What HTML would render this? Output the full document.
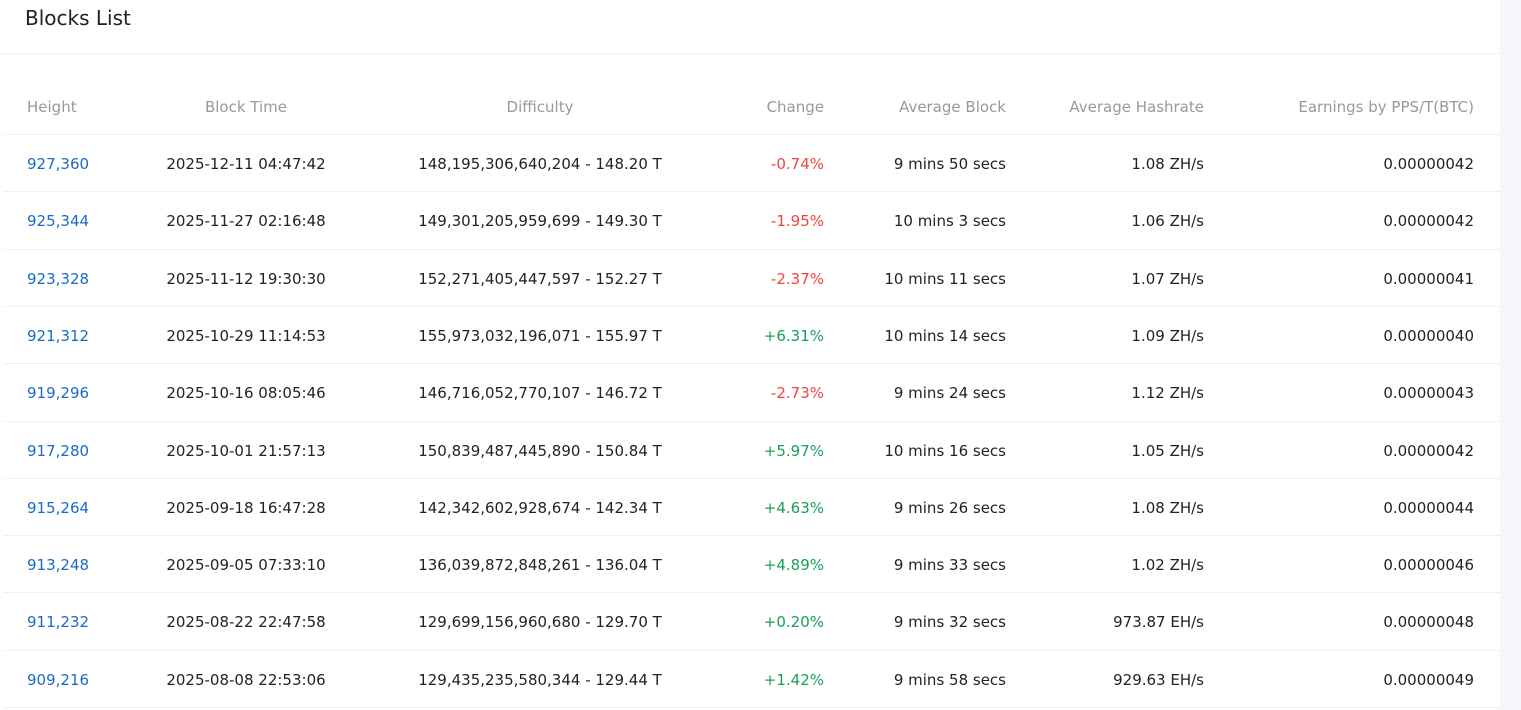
<!DOCTYPE html>
<html><head><meta charset="utf-8"><style>
body{margin:0;width:1521px;height:710px;background:#f5f7fa;font-family:"DejaVu Sans","Liberation Sans",sans-serif;overflow:hidden;position:relative}
.panel{position:absolute;left:0;top:0;width:1500px;height:710px;background:#fff}
.title{position:absolute;left:25px;top:6px;font-size:20px;color:#222}
.hr{position:absolute;left:0;width:1500px;height:1px;background:#eef0f3}
.c{position:absolute;font-size:15px;color:#222;white-space:nowrap;line-height:20px}
.h{color:#999}
.l{color:#1a6ac4}.r{color:#f0443c}.g{color:#18a05a}
</style></head><body><div class="panel">
<div class="title">Blocks List</div>
<div class="hr" style="top:53px"></div>
<div id="t"></div>
</div>
<script>
var rows=[["927,360","2025-12-11 04:47:42","148,195,306,640,204 - 148.20 T","-0.74%","9 mins 50 secs","1.08 ZH/s","0.00000042"],
["925,344","2025-11-27 02:16:48","149,301,205,959,699 - 149.30 T","-1.95%","10 mins 3 secs","1.06 ZH/s","0.00000042"],
["923,328","2025-11-12 19:30:30","152,271,405,447,597 - 152.27 T","-2.37%","10 mins 11 secs","1.07 ZH/s","0.00000041"],
["921,312","2025-10-29 11:14:53","155,973,032,196,071 - 155.97 T","+6.31%","10 mins 14 secs","1.09 ZH/s","0.00000040"],
["919,296","2025-10-16 08:05:46","146,716,052,770,107 - 146.72 T","-2.73%","9 mins 24 secs","1.12 ZH/s","0.00000043"],
["917,280","2025-10-01 21:57:13","150,839,487,445,890 - 150.84 T","+5.97%","10 mins 16 secs","1.05 ZH/s","0.00000042"],
["915,264","2025-09-18 16:47:28","142,342,602,928,674 - 142.34 T","+4.63%","9 mins 26 secs","1.08 ZH/s","0.00000044"],
["913,248","2025-09-05 07:33:10","136,039,872,848,261 - 136.04 T","+4.89%","9 mins 33 secs","1.02 ZH/s","0.00000046"],
["911,232","2025-08-22 22:47:58","129,699,156,960,680 - 129.70 T","+0.20%","9 mins 32 secs","973.87 EH/s","0.00000048"],
["909,216","2025-08-08 22:53:06","129,435,235,580,344 - 129.44 T","+1.42%","9 mins 58 secs","929.63 EH/s","0.00000049"]];
var h="";
function cell(txt,cy,col,cls){var s;
if(col==0)s="left:27px";else if(col==1)s="left:146px;width:200px;text-align:center";else if(col==2)s="left:340px;width:400px;text-align:center";
else{var R=[0,0,0,824,1006,1204,1474][col];s="right:"+(1500-R)+"px;text-align:right";}
return '<div class="c '+cls+'" style="'+s+';top:'+(cy-9)+'px">'+txt+'</div>';}
var hd=["Height","Block Time","Difficulty","Change","Average Block","Average Hashrate","Earnings by PPS/T(BTC)"];
hd.forEach(function(t,i){h+=cell(t,106,i,"h")});
h+='<div class="hr" style="top:134px;left:3px;width:1497px"></div>';
rows.forEach(function(r,k){var cy=163+k*57.3;var top=Math.round(134+(k+1)*57.3);
r.forEach(function(t,i){var cls=i==0?"l":(i==3?(t[0]=="-"?"r":"g"):"");h+=cell(t,Math.round(cy),i,cls)});
h+='<div class="hr" style="top:'+top+'px;left:3px;width:1497px"></div>';});
document.getElementById("t").innerHTML=h;
</script></body></html>
